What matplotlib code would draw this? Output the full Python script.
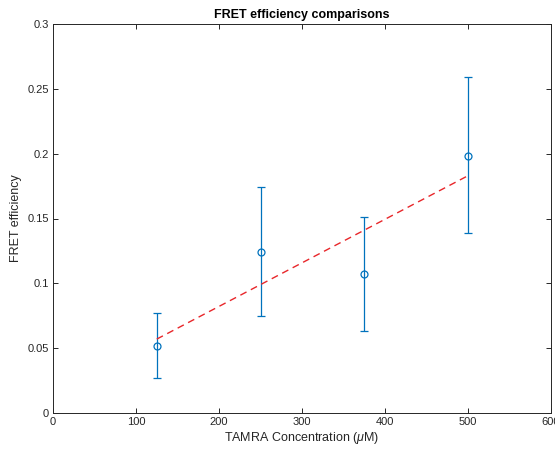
import matplotlib

matplotlib.use("Agg")
import matplotlib.pyplot as plt

# ==========================================
# Data
# ==========================================
conc = [125, 250, 375, 500]
fret = [0.052, 0.124, 0.107, 0.198]
err_low = [0.027, 0.075, 0.063, 0.139]
err_high = [0.077, 0.174, 0.151, 0.259]

fit_x = [125, 500]
fit_y = [0.057, 0.183]

x_ticks = [0, 100, 200, 300, 400, 500, 600]
y_ticks = [0, 0.05, 0.1, 0.15, 0.2, 0.25, 0.3]
y_tick_labels = ["0", "0.05", "0.1", "0.15", "0.2", "0.25", "0.3"]

plt.rcParams["font.family"] = ["Liberation Sans", "DejaVu Sans"]
plt.rcParams["mathtext.fontset"] = "custom"
plt.rcParams["mathtext.it"] = "Liberation Sans:italic"
plt.rcParams["mathtext.rm"] = "Liberation Sans"

BLUE = "#0072BD"
AX_COLOR = "#262626"

fig = plt.figure(figsize=(5.55, 4.5), dpi=100)
ax = fig.add_axes([53 / 555, 37 / 450, 498 / 555, 389 / 450])

yerr = [[f - lo for f, lo in zip(fret, err_low)],
        [hi - f for f, hi in zip(fret, err_high)]]
ax.errorbar(conc, fret, yerr=yerr, fmt="o", color=BLUE, mfc="none",
            ms=5, mew=0.9, elinewidth=0.9, capsize=2.6, capthick=0.9)
ax.plot(fit_x, fit_y, "--", color="#e8262a", lw=1.0, dashes=(5, 3.5))

ax.set_xlim(0, 600)
ax.set_ylim(0, 0.3)
ax.set_xticks(x_ticks)
ax.set_yticks(y_ticks)
ax.set_yticklabels(y_tick_labels)

ax.tick_params(direction="in", top=True, right=True, length=3.5, width=0.7,
               colors=AX_COLOR, labelsize=8, labelcolor=AX_COLOR, pad=3)
for sp in ax.spines.values():
    sp.set_color(AX_COLOR)
    sp.set_linewidth(0.7)

ax.set_xlabel(r"TAMRA Concentration ($\mu$M)", fontsize=9, color=AX_COLOR, labelpad=2)
ax.set_ylabel("FRET efficiency", fontsize=9, color=AX_COLOR, labelpad=4)
ax.set_title("FRET efficiency comparisons", fontsize=9, fontweight="bold",
             color="black", pad=4)

fig.savefig("out.png", dpi=100)
